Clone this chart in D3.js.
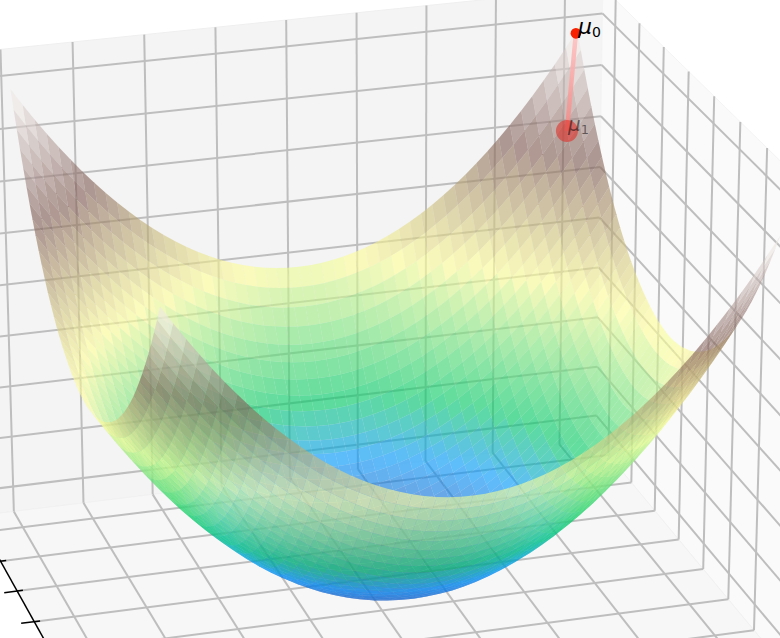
<!DOCTYPE html>
<html><head><meta charset="utf-8">
<script src="https://cdn.jsdelivr.net/npm/d3@7"></script>
<style>html,body{margin:0;background:#fff}svg{display:block}</style>
</head><body><svg width="780" height="638"></svg>
<script>
const xSamples=[-2,-1.92,-1.84,-1.76,-1.68,-1.6,-1.52,-1.44,-1.36,-1.28,-1.2,-1.12,-1.04,-0.96,-0.88,-0.8,-0.72,-0.64,-0.56,-0.48,-0.4,-0.32,-0.24,-0.16,-0.08,0,0.08,0.16,0.24,0.32,0.4,0.48,0.56,0.64,0.72,0.8,0.88,0.96,1.04,1.12,1.2,1.28,1.36,1.44,1.52,1.6,1.68,1.76,1.84,1.92,2];
const ySamples=xSamples;
const xBowl=[4,3.6864,3.3856,3.0976,2.8224,2.56,2.3104,2.0736,1.8496,1.6384,1.44,1.2544,1.0816,0.9216,0.7744,0.64,0.5184,0.4096,0.3136,0.2304,0.16,0.1024,0.0576,0.0256,0.0064,0,0.0064,0.0256,0.0576,0.1024,0.16,0.2304,0.3136,0.4096,0.5184,0.64,0.7744,0.9216,1.0816,1.2544,1.44,1.6384,1.8496,2.0736,2.3104,2.56,2.8224,3.0976,3.3856,3.6864,4];
const yBowl=[4,3.69,3.39,3.1,2.83,2.57,2.32,2.09,1.87,1.66,1.47,1.29,1.12,0.97,0.83,0.7,0.59,0.49,0.4,0.32,0.25,0.2,0.15,0.12,0.1,0.09,0.1,0.12,0.15,0.2,0.25,0.32,0.4,0.49,0.59,0.7,0.83,0.97,1.12,1.29,1.47,1.66,1.87,2.09,2.32,2.57,2.83,3.1,3.39,3.69,4];
const xTicks=[-2,-1.5,-1,-0.5,0,0.5,1,1.5,2];
const yTicks=xTicks;
const zTicks=[0,1,2,3,4,5,6,7,8];
const pathX=[1.99,1.85];
const pathY=[-2,-1.75];
const pathZ=[7.94,6.33];
const pathNames=['0','1'];
const cmapStops=[0,.15,.25,.5,.75,1];
const cmapColors=['rgb(51,51,153)','rgb(0,153,255)','rgb(0,204,102)','rgb(255,255,153)','rgb(128,92,84)','rgb(255,255,255)'];
const camera=[[70.44463,16.29929,-1.499357,22.17736],[-7.096847,22.82420,-51.93569,502.1489],[0.003007123,-0.01144392,-0.003778563,1]];

const X=d3.scaleLinear().domain([-2,2]).range([0,8]);
const Y=d3.scaleLinear().domain([-2,2]).range([0,8]);
const Z=d3.scaleLinear().domain([0,8]).range([0,8]);
const col=d3.scaleLinear().domain(cmapStops).range(cmapColors);
const proj=(x,y,z)=>{const u=X(x),v=Y(y),w=Z(z),P=camera,h=P[2][0]*u+P[2][1]*v+P[2][2]*w+P[2][3];
 return [(P[0][0]*u+P[0][1]*v+P[0][2]*w+P[0][3])/h,(P[1][0]*u+P[1][1]*v+P[1][2]*w+P[1][3])/h,h];};
const line=d3.line();
const path=pts=>line(pts.map(p=>proj(...p).slice(0,2)));
const svg=d3.select('svg');
const lo=-2.275,hi=2.275,zl=-.5,zh=8.5;

const panes=[[[lo,lo,zl],[hi,lo,zl],[hi,lo,zh],[lo,lo,zh]],[[hi,lo,zl],[hi,hi,zl],[hi,hi,zh],[hi,lo,zh]],[[lo,lo,zl],[hi,lo,zl],[hi,hi,zl],[lo,hi,zl]]];
svg.append('g').selectAll('path').data(panes).join('path').attr('d',d=>path(d)+'Z')
 .attr('fill',(d,i)=>['#f4f4f4','#fafafa','#f7f7f7'][i]).attr('stroke',(d,i)=>['#efefef','#f4f4f4','#f1f1f1'][i]);

const grid=[];
xTicks.forEach(t=>{grid.push([[t,lo,zl],[t,lo,zh]],[[t,lo,zl],[t,hi,zl]]);});
yTicks.forEach(t=>{grid.push([[hi,t,zl],[hi,t,zh]],[[lo,t,zl],[hi,t,zl]]);});
zTicks.forEach(t=>{grid.push([[lo,lo,t],[hi,lo,t]],[[hi,lo,t],[hi,hi,t]]);});
svg.append('g').selectAll('path').data(grid).join('path').attr('d',path).attr('fill','none').attr('stroke','#bebebe').attr('stroke-width',2);

svg.append('path').attr('d',path([[lo,lo,zl],[lo,hi,zl]])).attr('fill','none').attr('stroke','#000').attr('stroke-width',1.5);
svg.append('g').selectAll('path').data(yTicks).join('path').attr('d',t=>path([[lo-.09,t,zl],[lo+.04,t,zl]])).attr('fill','none').attr('stroke','#000').attr('stroke-width',1.5);

const cells=[];
d3.range(xSamples.length-1).forEach(i=>d3.range(ySamples.length-1).forEach(j=>{
 const idx=[[i,j],[i+1,j],[i+1,j+1],[i,j+1]];
 const zs=idx.map(([a,b])=>xBowl[a]+yBowl[b]);
 const c=idx.map(([a,b],k)=>proj(xSamples[a],ySamples[b],zs[k]));
 cells.push({c,z:d3.mean(zs),d:d3.mean(c,q=>q[2])});
}));
cells.sort((a,b)=>b.d-a.d);
svg.append('g').selectAll('path').data(cells).join('path')
 .attr('d',d=>line(d.c.map(q=>q.slice(0,2)))+'Z').attr('fill',d=>col(d.z/8)).attr('fill-opacity',.62);

const mu=pathX.map((x,i)=>proj(x,pathY[i],pathZ[i]));
const grad=svg.append('defs').append('linearGradient').attr('id','stepFade').attr('gradientUnits','userSpaceOnUse')
 .attr('x1',mu[0][0]).attr('y1',mu[0][1]).attr('x2',mu[1][0]).attr('y2',mu[1][1]);
grad.append('stop').attr('offset',0).attr('stop-color','#ffc4c4');
grad.append('stop').attr('offset',1).attr('stop-color','#f08a86');
svg.append('path').attr('d',line(mu.map(q=>q.slice(0,2)))).attr('fill','none').attr('stroke','url(#stepFade)').attr('stroke-opacity',.9).attr('stroke-width',4.5);
svg.append('circle').attr('cx',mu[1][0]).attr('cy',mu[1][1]).attr('r',11).attr('fill','#e0302a').attr('fill-opacity',.6);
svg.append('circle').attr('cx',mu[0][0]).attr('cy',mu[0][1]).attr('r',5.3).attr('fill','#f82000');
pathNames.forEach((n,i)=>{
 const t=svg.append('text').attr('x',mu[i][0]+(i?1:2)).attr('y',mu[i][1]+(i?0:1)).attr('font-family','DejaVu Sans').attr('font-size',i?20:22).attr('fill','#000').attr('fill-opacity',i?.5:1);
 t.append('tspan').attr('font-style','italic').text('μ');
 t.append('tspan').attr('font-size',i?13:14).attr('dy',3).text(n);
});
</script></body></html>
